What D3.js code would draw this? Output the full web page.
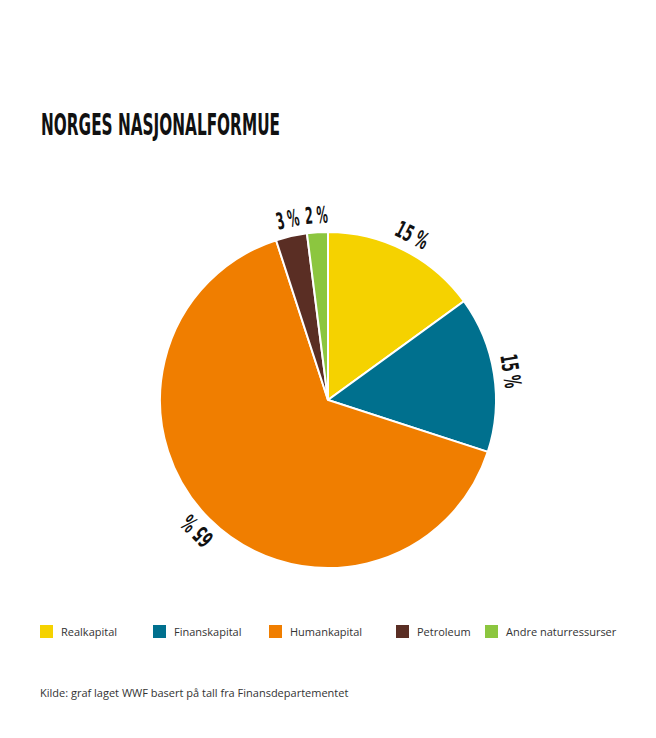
<!DOCTYPE html>
<html>
<head>
<meta charset="utf-8">
<script src="https://cdn.jsdelivr.net/npm/d3@7"></script>
<style>
  body { margin: 0; background: #fff; }
  .title, .pct { font-family: "DejaVu Sans Condensed", "DejaVu Sans", sans-serif; font-weight: bold; }
  .legend, .source { font-family: "Open Sans", sans-serif; }
</style>
</head>
<body>
<script>
var categories = ["Realkapital", "Finanskapital", "Humankapital", "Petroleum", "Andre naturressurser"];
var values = [15, 15, 65, 3, 2];
var colors = ["#f5d200", "#00708e", "#f07e00", "#5a2e24", "#8cc63f"];
var legendX = [40, 153, 269, 396, 485];

var width = 656, height = 738;
var cx = 328, cy = 400, radius = 168;

var svg = d3.select("body").append("svg")
  .attr("width", width)
  .attr("height", height);

// condensed look: squeeze the glyphs to the width seen in the picture
svg.append("text")
  .attr("class", "title")
  .attr("x", 41)
  .attr("y", 135)
  .attr("font-size", 30)
  .attr("textLength", 239)
  .attr("lengthAdjust", "spacingAndGlyphs")
  .attr("fill", "#111")
  .text("NORGES NASJONALFORMUE");

var data = categories.map(function(c, i) { return { name: c, value: values[i], color: colors[i] }; });

var pie = d3.pie().sort(null).value(d => d.value);
var arc = d3.arc().innerRadius(0).outerRadius(radius);

var g = svg.append("g").attr("transform", "translate(" + cx + "," + cy + ")");

var slices = g.selectAll("g.slice")
  .data(pie(data))
  .enter()
  .append("g")
  .attr("class", "slice");

slices.append("path")
  .attr("d", arc)
  .attr("fill", d => d.data.color)
  .attr("stroke", "#fff")
  .attr("stroke-width", 2);

// percentage labels, rotated along the arc
slices.append("text")
  .attr("class", "pct")
  .attr("transform", function(d) {
    var a = (d.startAngle + d.endAngle) / 2 * 180 / Math.PI;
    return "rotate(" + a + ") translate(0," + (-(radius + 9)) + ")";
  })
  .attr("text-anchor", "middle")
  .attr("font-size", 23)
  .attr("textLength", d => String(d.data.value).length * 11 + 12)
  .attr("lengthAdjust", "spacingAndGlyphs")
  .attr("fill", "#111")
  .text(d => d.data.value + " %");

var legend = svg.selectAll("g.legend")
  .data(data)
  .enter()
  .append("g")
  .attr("class", "legend")
  .attr("transform", (d, i) => "translate(" + legendX[i] + ",625)");

legend.append("rect")
  .attr("width", 13)
  .attr("height", 13)
  .attr("fill", d => d.color);

legend.append("text")
  .attr("x", 21)
  .attr("y", 11)
  .attr("font-size", 11)
  .attr("fill", "#333")
  .text(d => d.name);

svg.append("text")
  .attr("class", "source")
  .attr("x", 40)
  .attr("y", 697)
  .attr("font-size", 11)
  .attr("fill", "#333")
  .text("Kilde: graf laget WWF basert på tall fra Finansdepartementet");
</script>
</body>
</html>
